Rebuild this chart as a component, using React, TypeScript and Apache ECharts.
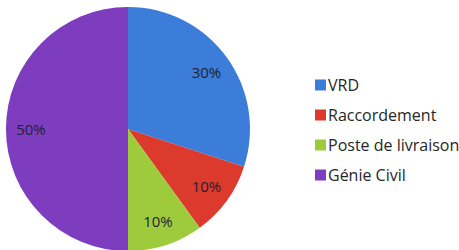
import React, { useEffect, useRef } from "react";
import * as echarts from "echarts";

const categories = ["VRD", "Raccordement", "Poste de livraison", "Génie Civil"];
const values = [30, 10, 10, 50];
const colors = ["#3b7dd8", "#dc3a2c", "#9dcb3c", "#7e3cbf"];

export default function App() {
  const ref = useRef<HTMLDivElement>(null);
  useEffect(() => {
    const chart = echarts.init(ref.current!, null, { renderer: "svg" });
    const data = categories.map((name, i) => ({
      name,
      value: values[i],
      itemStyle: { color: colors[i] },
    }));
    chart.setOption({
      animation: false,
      backgroundColor: "#ffffff",
      legend: {
        orient: "vertical",
        left: 310,
        top: 72,
        itemWidth: 11,
        itemHeight: 11,
        itemGap: 14,
        icon: "rect",
        textStyle: { fontFamily: "Open Sans", fontSize: 16, color: "#262626", padding: [0, 0, 0, -3] },
        data: categories,
      },
      series: [
        {
          type: "pie",
          center: [128, 129],
          radius: [0, 122],
          startAngle: 90,
          clockwise: true,
          label: { show: false },
          labelLine: { show: false },
          silent: true,
          data,
        },
        {
          type: "pie",
          center: [128, 129],
          radius: [66, 122],
          startAngle: 90,
          clockwise: true,
          silent: true,
          legendHoverLink: false,
          itemStyle: { color: "transparent" },
          label: {
            show: true,
            position: "inside",
            formatter: "{c}%",
            fontFamily: "Open Sans",
            fontSize: 15,
            color: "#1f1f33",
          },
          labelLine: { show: false },
          data: categories.map((name, i) => ({ name: name + " ", value: values[i] })),
        },
      ],
    });
    return () => chart.dispose();
  }, []);
  return <div ref={ref} style={{ position: "fixed", left: 0, top: 0, width: 459, height: 250 }} />;
}
